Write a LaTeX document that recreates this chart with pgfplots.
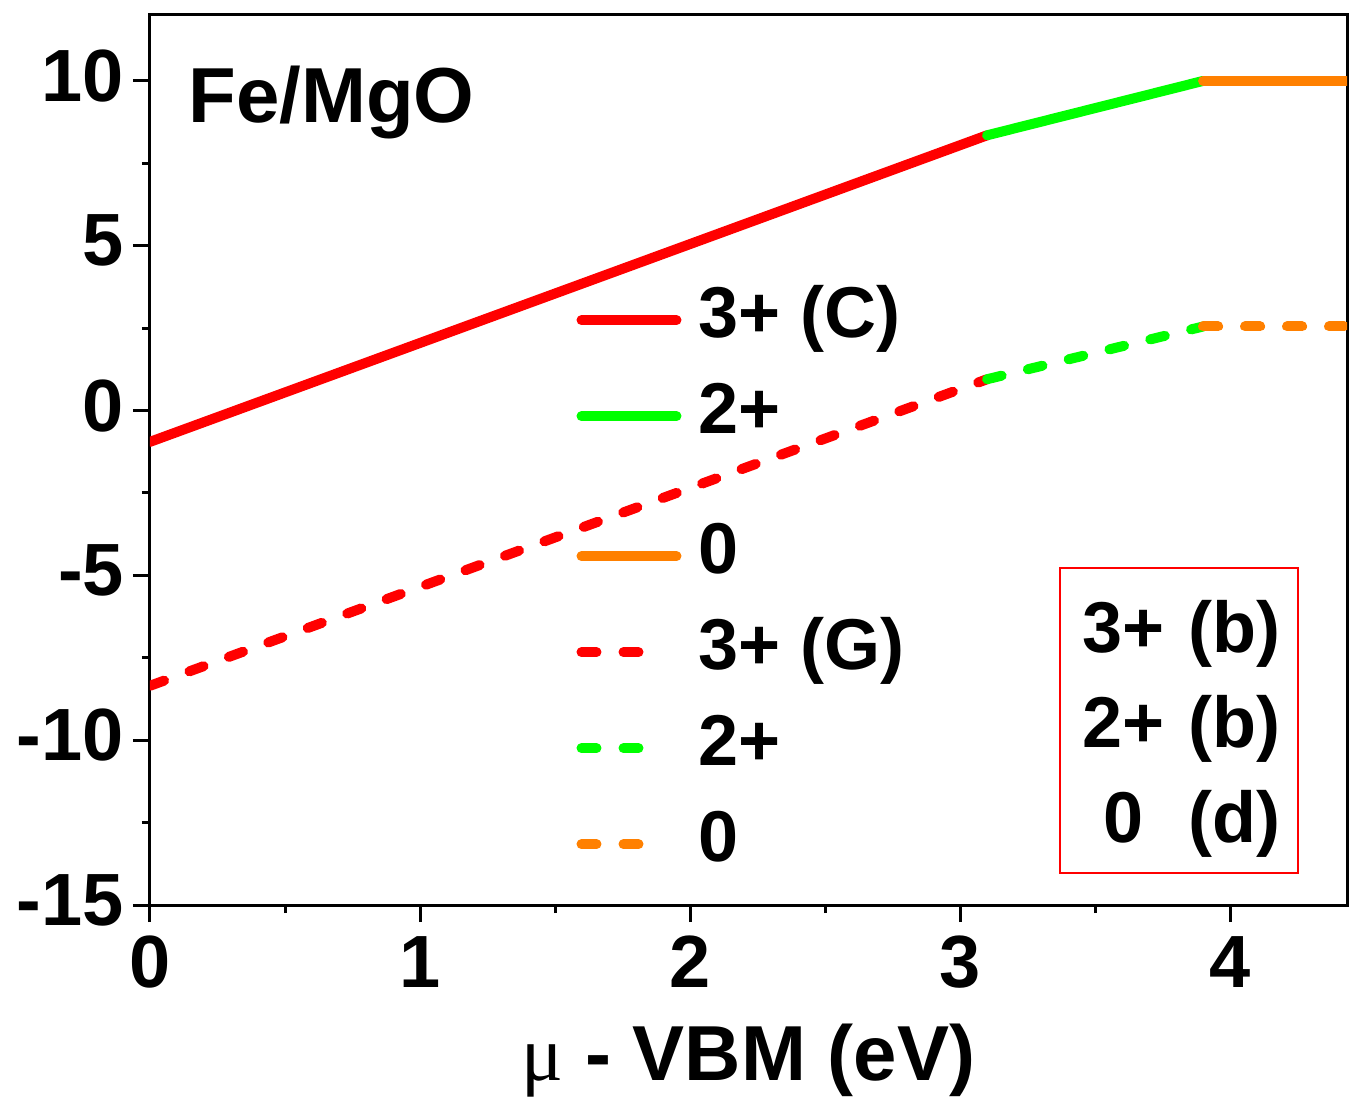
\documentclass[border=0pt]{standalone}
\usepackage{fontspec}
\setmainfont{Liberation Sans}
\newfontfamily\mufont{Liberation Serif}
\usepackage{pgfplots}
\pgfplotsset{compat=1.18}

\definecolor{cRed}{RGB}{255,0,0}
\definecolor{cGreen}{RGB}{0,255,0}
\definecolor{cOrange}{RGB}{255,128,0}

\newcommand\lblfont{\bfseries\fontsize{18}{18}\selectfont}
\newcommand\tickfont{\bfseries\fontsize{18.5}{18.5}\selectfont}
\newcommand\bigfont{\bfseries\fontsize{19.5}{19.5}\selectfont}

% legend samples: a solid bar, or two short dashes, set at mid x-height
\pgfkeys{/pgfplots/solid sample/.style={legend image code/.code={%
  \draw (1.25pt,4.2pt) -- (25pt,4.2pt); \path (0pt,0pt) (26.25pt,0pt);}}}
\pgfkeys{/pgfplots/dash sample/.style={legend image code/.code={%
  \draw (1.25pt,4.2pt) -- (15.5pt,4.2pt); \path (0pt,0pt) (26.25pt,0pt);}}}

\begin{document}
\begin{tikzpicture}
\begin{axis}[
  scale only axis, width=299.25pt, height=222.5pt,
  xmin=0, xmax=4.433, ymin=-15, ymax=12,
  xtick={0,1,2,3,4}, ytick={-15,-10,-5,0,5,10},
  minor x tick num=1, minor y tick num=1,
  tick align=outside, xtick pos=bottom, ytick pos=left,
  major tick length=4.25pt, minor tick length=2pt,
  every tick/.style={black, line width=0.75pt},
  axis line style={line width=0.75pt},
  tick label style={font=\tickfont},
  yticklabel style={xshift=1.25pt, yshift=1.25pt},
  /pgf/number format/assume math mode=true,
  xlabel={{\mufont\mdseries μ} - VBM (eV)},
  xlabel style={font=\bigfont, at={(axis description cs:0.5,0)}, anchor=base, yshift=-43.75pt},
  legend style={draw=none, fill=none, font=\lblfont, inner sep=0pt, row sep=0pt,
    column sep=3pt, nodes={inner sep=0pt, text height=18pt, text depth=6pt},
    cells={anchor=base west},
    at={(axis cs:1.558,4.44)}, anchor=north west},
  every axis plot/.append style={line width=2.5pt, line cap=round},
]
% conventional cell
\addplot[cRed, solid sample] coordinates {(0,-0.95) (3.1,8.35)};
\addlegendentry{3+ (C)}
\addplot[cGreen, solid sample] coordinates {(3.1,8.35) (3.9,10.0)};
\addlegendentry[text depth=17pt]{2+}
\addplot[cOrange, solid sample] coordinates {(3.9,10.0) (4.433,10.0)};
\addlegendentry{0}
% grand-canonical cell
\addplot[cRed, dash pattern=on 3.75pt off 6.75pt, dash sample] coordinates {(0,-8.35) (3.1,0.95)};
\addlegendentry{3+ (G)}
\addplot[cGreen, dash pattern=on 3.75pt off 6.75pt, dash sample] coordinates {(3.1,0.95) (3.9,2.55)};
\addlegendentry{2+}
\addplot[cOrange, dash pattern=on 3.75pt off 6.75pt, dash sample] coordinates {(3.9,2.55) (4.433,2.55)};
\addlegendentry{0}

\node[font=\bigfont, anchor=base west, inner sep=0pt] at (axis cs:0.14,8.75) {Fe/MgO};
\node[draw=cRed, line width=0.4pt, minimum width=59.5pt, minimum height=76.25pt, inner sep=0pt]
  at (axis cs:3.811,-9.41) {};
\node[font=\lblfont, anchor=base west, inner sep=0pt] at (axis cs:3.452,-7.342)
  {\fontsize{18}{23.75}\selectfont\begin{tabular}[t]{@{}c@{\hspace{6pt}}l@{}}3+ & (b)\\ 2+ & (b)\\ 0 & (d)\end{tabular}};
\coordinate (bl) at (rel axis cs:0,0);
\coordinate (tr) at (rel axis cs:1,1);
\end{axis}
\pgfresetboundingbox
\useasboundingbox ([shift={(-37.5pt,-51.25pt)}]bl) rectangle ([shift={(5pt,3.75pt)}]tr);
\end{tikzpicture}
\end{document}
